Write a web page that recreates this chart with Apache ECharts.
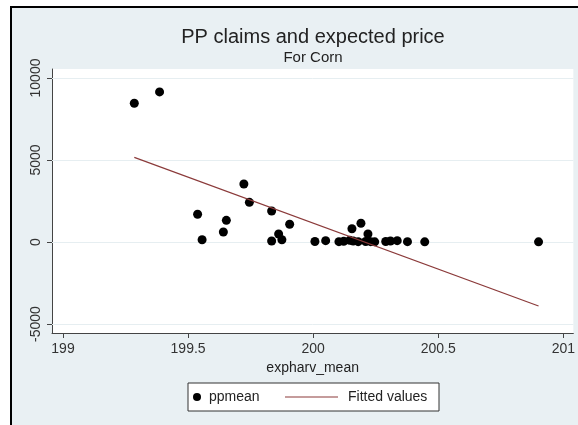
<!DOCTYPE html>
<html>
<head>
<meta charset="utf-8">
<script src="https://cdn.jsdelivr.net/npm/echarts@6/dist/echarts.min.js"></script>
<style>
html,body{margin:0;padding:0;background:#fff;}
#one{width:578px;height:425px;}
</style>
</head>
<body>
<div id="one"></div>
<script>
// expharv_mean (x) and ppmean (y)
var expharv = [199.285, 199.386, 199.538, 199.556, 199.641, 199.653, 199.723, 199.745,
    199.834, 199.834, 199.862, 199.875, 199.906, 200.007, 200.050, 200.103,
    200.122, 200.146, 200.155, 200.160, 200.180, 200.191, 200.219, 200.210,
    200.230, 200.246, 200.290, 200.309, 200.336, 200.377, 200.446, 200.901];
var ppmean = [8460, 9150, 1690, 140, 610, 1320, 3540, 2420,
    1890, 60, 490, 140, 1080, 30, 80, 20,
    40, 100, 810, 60, 20, 1140, 490, 30,
    20, 10, 30, 60, 80, 20, 10, 10];
// fitted line end points
var fitX = [199.285, 200.901];
var fitY = [5160, -3900];
var xTicks = [199, 199.5, 200, 200.5, 201];
var yTicks = [-5000, 0, 5000, 10000];

(function(){
var myChart = echarts.init(document.getElementById('one'));
var font = 'Liberation Sans, Arial, sans-serif';

var pts = [];
for (var i = 0; i < expharv.length; i++) pts.push([expharv[i], ppmean[i]]);
var fit = [];
for (var j = 0; j < fitX.length; j++) fit.push([fitX[j], fitY[j]]);
// horizontal grid lines at the y ticks
var gridLines = [];
for (var k = 0; k < yTicks.length; k++) gridLines.push({ yAxis: yTicks[k] });

myChart.setOption({
    backgroundColor: '#fff',
    textStyle: { fontFamily: font },
    graphic: [
        { type: 'rect', shape: { x: 10, y: 6, width: 570, height: 421 }, style: { fill: '#000' }, z: -10 },
        { type: 'rect', shape: { x: 12, y: 8, width: 568, height: 419 }, style: { fill: '#e9f0f3' }, z: -9 },
        { type: 'text', x: 313, y: 37, style: { text: 'PP claims and expected price', fill: '#222', font: '20px ' + font, textAlign: 'center', textVerticalAlign: 'middle' } },
        { type: 'text', x: 313, y: 58, style: { text: 'For Corn', fill: '#222', font: '15px ' + font, textAlign: 'center', textVerticalAlign: 'middle' } },
        { type: 'rect', shape: { x: 188, y: 383, width: 251, height: 28 }, style: { fill: '#fff', stroke: '#333', lineWidth: 1 }, z: 50 }
    ],
    legend: [
        { data: ['ppmean'], left: 193, top: 390, padding: 0, itemWidth: 8, itemHeight: 8, icon: 'circle', z: 60,
          textStyle: { fontSize: 14, color: '#222', fontFamily: font, padding: [0, 0, 0, 3] } },
        { data: [{ name: 'Fitted values', icon: 'rect' }], left: 285, top: 390, padding: 0, itemWidth: 53, itemHeight: 1.2, z: 60,
          textStyle: { fontSize: 14, color: '#222', fontFamily: font, padding: [0, 0, 0, 5] } }
    ],
    grid: {
        show: true, left: 52, right: 4, top: 69, bottom: 92,
        backgroundColor: '#fff', borderWidth: 0
    },
    xAxis: {
        type: 'value', min: 198.956, max: 201.04,
        name: 'expharv_mean', nameLocation: 'middle', nameGap: 25,
        nameTextStyle: { fontSize: 14, color: '#222', fontFamily: font },
        axisLine: { show: true, onZero: false, lineStyle: { color: '#444', width: 1 } },
        axisTick: { show: true, length: 5, customValues: xTicks, lineStyle: { color: '#444' } },
        axisLabel: { customValues: xTicks, fontSize: 14, color: '#333', margin: 9, fontFamily: font,
            formatter: function (v) { return String(v); } },
        splitLine: { show: false }
    },
    yAxis: {
        type: 'value', min: -5549, max: 10549,
        axisLine: { show: true, onZero: false, lineStyle: { color: '#444', width: 1 } },
        axisTick: { show: true, length: 5, customValues: yTicks, lineStyle: { color: '#444' } },
        axisLabel: { customValues: yTicks, rotate: 90, fontSize: 14, color: '#333', margin: 9, fontFamily: font,
            formatter: function (v) { return String(v); } },
        splitLine: { show: false }
    },
    series: [
        { name: 'ppmean', type: 'scatter', data: pts, symbolSize: 9,
          itemStyle: { color: '#000', opacity: 1 },
          markLine: { silent: true, symbol: 'none', label: { show: false }, z: 1,
              lineStyle: { color: '#e6eef1', width: 1, type: 'solid' }, data: gridLines } },
        { name: 'Fitted values', type: 'line', data: fit, symbol: 'none', z: 3,
          lineStyle: { color: '#8b3a3a', width: 1.2 }, itemStyle: { color: '#8b3a3a' } }
    ]
});
})();
</script>
</body>
</html>
